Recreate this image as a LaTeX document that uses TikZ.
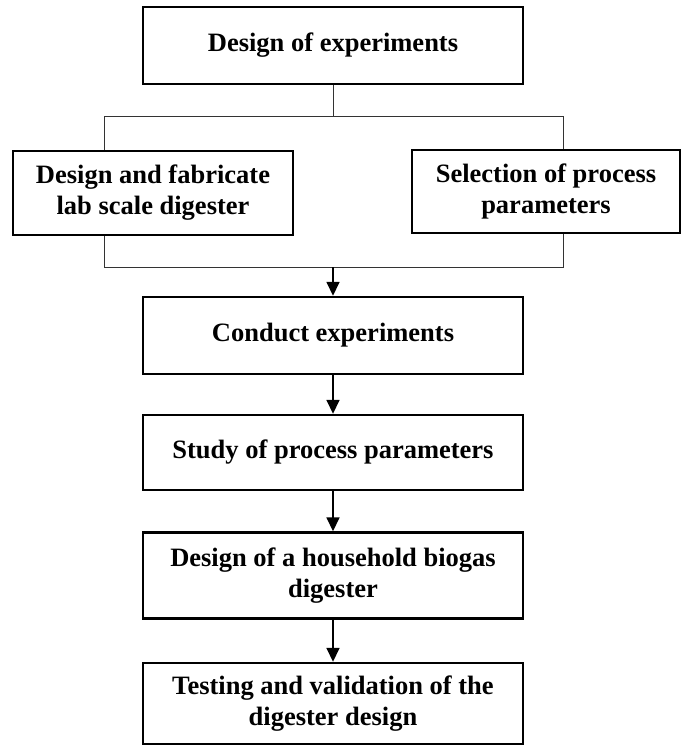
\documentclass[tikz,border=0pt]{standalone}
\usepackage{fontspec}
\setmainfont{Liberation Serif}
\usetikzlibrary{arrows.meta}
\begin{document}
\begin{tikzpicture}[x=1pt,y=1pt,
  box/.style={draw=black, line width=2.4pt, inner sep=0pt, align=center,
    font=\fontsize{26.5}{31}\selectfont\bfseries, text=black},
  wide/.style={box, minimum width=380pt},
  thin/.style={draw=black!80, line width=1pt},
  arr/.style={draw=black, line width=1.6pt, -{Triangle[width=13pt,length=14pt]}}]
\useasboundingbox (0,0) rectangle (682,-745);
\node[wide, minimum height=77pt] (b1) at (333,-45.5) {Design of experiments};
\node[box, minimum width=280pt, minimum height=84pt] (b2) at (153,-193) {Design and fabricate\\lab scale digester};
\node[box, minimum width=268pt, minimum height=83pt] (b3) at (546,-191.5) {Selection of process\\parameters};
\node[wide, minimum height=77pt] (b4) at (333,-335.5) {Conduct experiments};
\node[wide, minimum height=75pt] (b5) at (333,-452.5) {Study of process parameters};
\node[wide, minimum height=86pt] (b6) at (333,-575.5) {Design of a household biogas\\digester};
\node[wide, minimum height=81pt] (b7) at (333,-703.5) {Testing and validation of the\\digester design};
\coordinate (top) at (333,-116);
\coordinate (tl) at (104,-116);
\coordinate (tr) at (563,-116);
\coordinate (bl) at (104,-267);
\coordinate (br) at (563,-267);
\coordinate (bm) at (333,-267);
\draw[thin] (b1.south) -- (top);
\draw[thin] (tl) -- (tr);
\draw[thin] (tl) -- (tl |- b2.north);
\draw[thin] (tr) -- (tr |- b3.north);
\draw[thin] (bl |- b2.south) -- (bl) -- (br) -- (br |- b3.south);
\draw[arr] (bm) -- (b4.north);
\draw[arr] (b4.south) -- (b5.north);
\draw[arr] (b5.south) -- (b6.north);
\draw[arr] (b6.south) -- (b7.north);
\end{tikzpicture}
\end{document}
